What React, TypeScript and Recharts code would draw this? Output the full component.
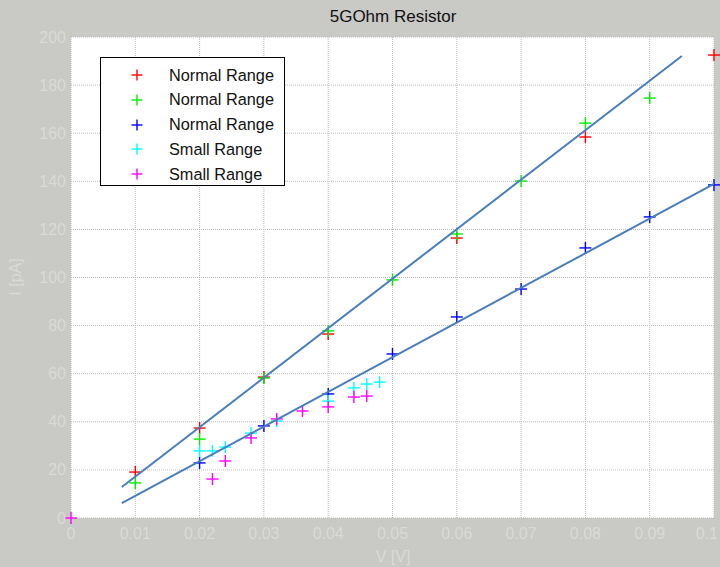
import React from "react";
import {
  ScatterChart,
  Scatter,
  XAxis,
  YAxis,
  CartesianGrid,
} from "recharts";

// axis ticks
const xTicks = [0, 0.01, 0.02, 0.03, 0.04, 0.05, 0.06, 0.07, 0.08, 0.09, 0.1];
const yTicks = [0, 20, 40, 60, 80, 100, 120, 140, 160, 180, 200];

// measured points (V in volts, I in pA)
const redV = [0.01, 0.02, 0.03, 0.04, 0.06, 0.08, 0.1];
const redI = [19.1, 37.4, 58.6, 76.5, 116.4, 158.4, 192.5];

const greenV = [0.01, 0.02, 0.03, 0.04, 0.05, 0.06, 0.07, 0.08, 0.09];
const greenI = [14.6, 32.8, 58.2, 77.8, 99, 118.1, 140.1, 164.2, 174.6];

const blueV = [0.02, 0.03, 0.04, 0.05, 0.06, 0.07, 0.08, 0.09, 0.1];
const blueI = [22.9, 38.3, 51.6, 68.2, 83.6, 95.2, 112.3, 125.2, 138.5];

const cyanV = [0.02, 0.022, 0.024, 0.028, 0.032, 0.04, 0.044, 0.046, 0.048];
const cyanI = [27.9, 27.9, 29.5, 35.3, 40.3, 48.6, 54.1, 55.7, 56.5];

const magentaV = [0, 0.022, 0.024, 0.028, 0.032, 0.036, 0.04, 0.044, 0.046];
const magentaI = [0, 16.2, 23.7, 33.3, 41.2, 44.5, 46.2, 50.3, 50.7];

// fitted lines
const fitAV = [0.0079, 0.095];
const fitAI = [12.9, 192.1];
const fitBV = [0.0079, 0.1];
const fitBI = [6.2, 138.9];

const zip = (vs: number[], is: number[]) => vs.map((v, k) => ({ v, i: is[k] }));

const series = [
  { name: "Normal Range", color: "#ff0000", data: zip(redV, redI) },
  { name: "Normal Range", color: "#00ee00", data: zip(greenV, greenI) },
  { name: "Normal Range", color: "#0000ff", data: zip(blueV, blueI) },
  { name: "Small Range", color: "#00ffff", data: zip(cyanV, cyanI) },
  { name: "Small Range", color: "#ff00ff", data: zip(magentaV, magentaI) },
];

const fits = [zip(fitAV, fitAI), zip(fitBV, fitBI)];

const FONT = "'Liberation Sans', Arial, sans-serif";
const BG = "#c9c9c5";
const TICK_COLOR = "#dadad7";

function PlusMark({ cx, cy, color, r = 6 }: { cx: number; cy: number; color: string; r?: number }) {
  return (
    <g stroke={color} strokeWidth={1.4}>
      <line x1={cx - r} y1={cy} x2={cx + r} y2={cy} />
      <line x1={cx} y1={cy - r} x2={cx} y2={cy + r} />
    </g>
  );
}

const XTick = (props: any) => {
  const { x, y, payload, index } = props;
  const last = index === xTicks.length - 1;
  return (
    <text x={last ? x + 4 : x} y={y + 15} textAnchor={last ? "end" : "middle"} dominantBaseline="central"
      fontSize={16} fill={TICK_COLOR} fontFamily={FONT}>
      {String(payload.value)}
    </text>
  );
};

const YTick = (props: any) => {
  const { x, y, payload } = props;
  return (
    <text x={x - 5} y={y} textAnchor="end" dominantBaseline="central"
      fontSize={16} fill={TICK_COLOR} fontFamily={FONT}>
      {String(payload.value)}
    </text>
  );
};

export default function App() {
  return (
    <div style={{ position: "absolute", left: 0, top: 0, width: 720, height: 567, background: BG, fontFamily: FONT, overflow: "hidden" }}>
      <div style={{ position: "absolute", left: 0, width: 786, top: 7, textAlign: "center", fontSize: 17, color: "#111" }}>
        5GOhm Resistor
      </div>
      <ScatterChart width={720} height={567} margin={{ top: 37, right: 6, bottom: 19, left: 31 }}>
        <CartesianGrid fill="#ffffff" stroke="#bbbbbb" strokeDasharray="1 1" />
        <XAxis
          type="number"
          dataKey="v"
          domain={[0, 0.1]}
          ticks={xTicks}
          height={30}
          tickSize={0}
          tickMargin={0}
          axisLine={false}
          tickLine={false}
          tick={<XTick />}
          interval={0}
        />
        <YAxis
          type="number"
          dataKey="i"
          domain={[0, 200]}
          ticks={yTicks}
          width={40}
          tickSize={0}
          tickMargin={0}
          axisLine={false}
          tickLine={false}
          tick={<YTick />}
          interval={0}
        />
        {series.map((s, k) => (
          <Scatter
            key={k}
            data={s.data}
            isAnimationActive={false}
            shape={(p: any) => <PlusMark cx={p.cx} cy={p.cy} color={s.color} />}
          />
        ))}
        {fits.map((f, k) => (
          <Scatter
            key={"fit" + k}
            data={f}
            isAnimationActive={false}
            line={{ stroke: "#4a7ebb", strokeWidth: 2 }}
            shape={() => <g />}
          />
        ))}
      </ScatterChart>
      <div style={{ position: "absolute", left: 0, width: 786, top: 548, textAlign: "center", fontSize: 16, color: TICK_COLOR }}>
        V [V]
      </div>
      <div style={{ position: "absolute", left: 16, top: 277, transform: "translate(-50%, -50%) rotate(-90deg)", fontSize: 16, color: TICK_COLOR, whiteSpace: "nowrap" }}>
        I [pA]
      </div>
      <div style={{ position: "absolute", left: 100, top: 57, width: 183, height: 127, background: "#fff", border: "1.5px solid #000" }}>
        {series.map((s, k) => (
          <div key={k} style={{ position: "absolute", left: 0, top: 5 + k * 24.8, height: 24, width: 183, display: "flex", alignItems: "center" }}>
            <svg width={68} height={24} style={{ flex: "none" }}>
              <PlusMark cx={36} cy={12} color={s.color} r={5.5} />
            </svg>
            <span style={{ fontSize: 16.3, color: "#111" }}>{s.name}</span>
          </div>
        ))}
      </div>
    </div>
  );
}
